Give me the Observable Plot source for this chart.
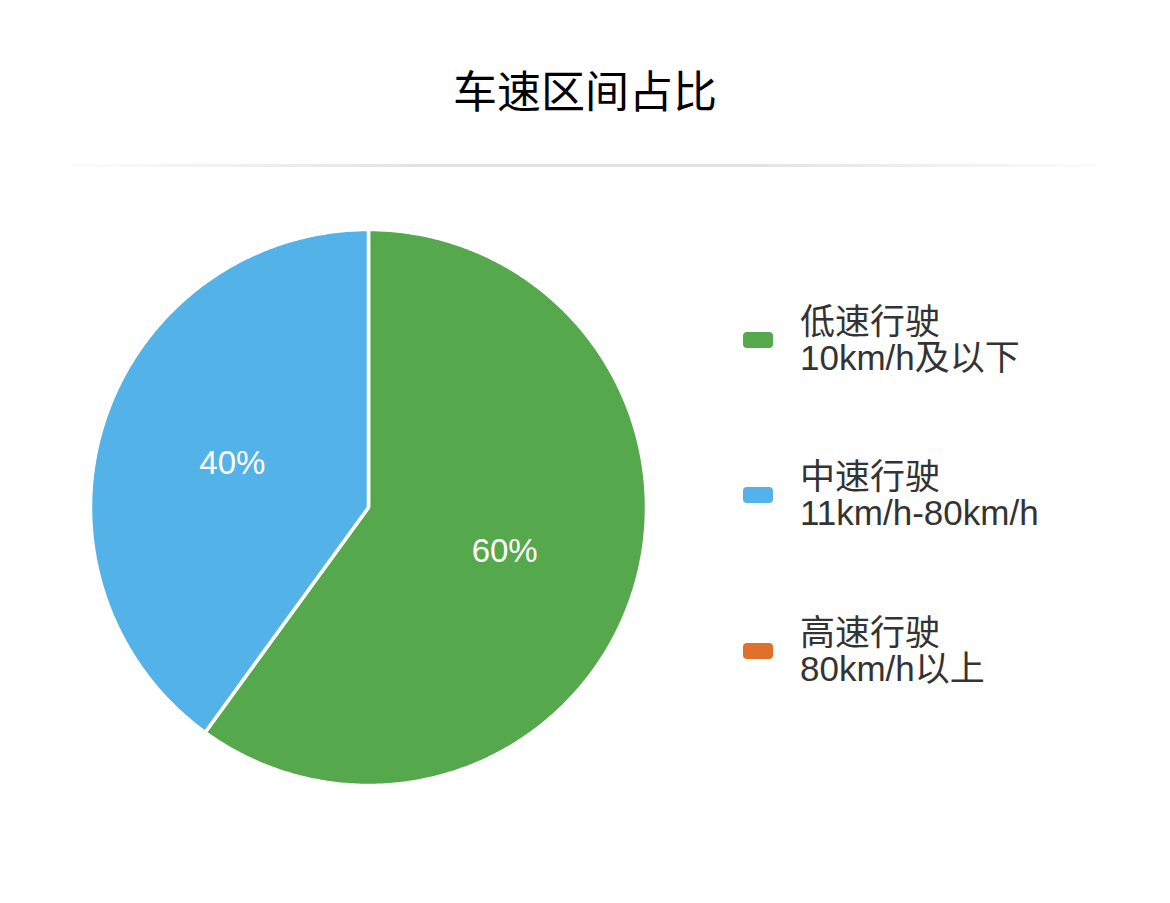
<!DOCTYPE html>
<html>
<head>
<meta charset="utf-8">
<script src="https://cdn.jsdelivr.net/npm/d3@7"></script>
<script src="https://cdn.jsdelivr.net/npm/@observablehq/plot@0.6"></script>
<style>
  html, body { margin: 0; padding: 0; background: #fff; }
  #page { position: relative; width: 1170px; height: 903px; overflow: hidden;
          font-family: "Liberation Sans", "Noto Sans CJK SC", sans-serif; }
  #title { position: absolute; left: 0; width: 1170px; top: 59px; height: 60px; line-height: 60px;
           text-align: center; font-size: 44px; color: #000; font-family: "Noto Sans CJK SC", sans-serif; }
  #sep { position: absolute; left: 35px; width: 1100px; top: 164px; height: 3px;
         background: linear-gradient(to right, rgba(225,225,225,0), #e2e2e2 35%, #e2e2e2 65%, rgba(225,225,225,0)); }
  #chart { position: absolute; left: 0; top: 176px; }
  #legend { position: absolute; left: 743px; top: 0; }
  .item { position: absolute; left: 0; width: 420px; }
  .swatch { position: absolute; left: 0; width: 30px; height: 16px; border-radius: 4px; }
  .label { position: absolute; left: 57px; font-size: 35px; line-height: 36px; color: #333; white-space: nowrap; }
</style>
</head>
<body>
<div id="page">
  <div id="title"></div>
  <div id="sep"></div>
  <div id="chart"></div>
  <div id="legend"></div>
</div>
<script>
// ---- data ----
const title = "车速区间占比";
const categories = ["低速行驶", "中速行驶", "高速行驶"];
const ranges = ["10km/h及以下", "11km/h-80km/h", "80km/h以上"];
const shares = [60, 40, 0];
const colors = ["#55a84b", "#53b3e8", "#e0702c"];

document.getElementById("title").textContent = title;

// build slice polygons from d3.pie angles (unit circle, clockwise from top)
const pie = d3.pie().sort(null).value(d => d.value).startAngle(0).endAngle(2 * Math.PI);
const rows = categories.map((c, i) => ({name: c, value: shares[i], range: ranges[i]}));
const arcs = pie(rows).filter(a => a.data.value > 0);
const pts = [];
for (const a of arcs) {
  pts.push({name: a.data.name, x: 0, y: 0});
  const n = Math.max(2, Math.ceil((a.endAngle - a.startAngle) / (Math.PI / 360)));
  for (let k = 0; k <= n; k++) {
    const t = a.startAngle + (a.endAngle - a.startAngle) * k / n;
    pts.push({name: a.data.name, x: Math.sin(t), y: Math.cos(t)});
  }
}
const labelR = 0.515;
const labels = arcs.map(a => {
  const m = (a.startAngle + a.endAngle) / 2;
  return {name: a.data.name, x: labelR * Math.sin(m), y: labelR * Math.cos(m), text: a.data.value + "%"};
});

const R = 278, cx = 368, cy = 331;
const plot = Plot.plot({
  width: 700,
  height: 727,
  margin: 0,
  x: {domain: [-1, 1], range: [cx - R, cx + R], axis: null},
  y: {domain: [-1, 1], range: [cy + R, cy - R], axis: null},
  color: {domain: categories, range: colors},
  style: {fontFamily: "'Liberation Sans', 'Noto Sans CJK SC', sans-serif", background: "transparent"},
  marks: [
    Plot.line(pts, {x: "x", y: "y", z: "name", fill: "name", stroke: "#fff", strokeWidth: 3.5,
                    strokeLinejoin: "round", curve: "linear-closed"}),
    Plot.text(labels, {x: "x", y: "y", text: "text", fill: "#fff", fontSize: 33})
  ]
});
document.getElementById("chart").appendChild(plot);

// legend
const legend = document.getElementById("legend");
const itemCenters = [340, 495, 651];
rows.forEach((r, i) => {
  const item = document.createElement("div");
  item.className = "item";
  item.style.top = itemCenters[i] + "px";
  const sw = document.createElement("div");
  sw.className = "swatch";
  sw.style.top = "-8px";
  sw.style.background = colors[i];
  const lb = document.createElement("div");
  lb.className = "label";
  lb.style.top = "-36px";
  const l1 = document.createElement("div"); l1.textContent = r.name;
  const l2 = document.createElement("div"); l2.textContent = r.range;
  lb.appendChild(l1); lb.appendChild(l2);
  item.appendChild(sw); item.appendChild(lb);
  legend.appendChild(item);
});
</script>
</body>
</html>
